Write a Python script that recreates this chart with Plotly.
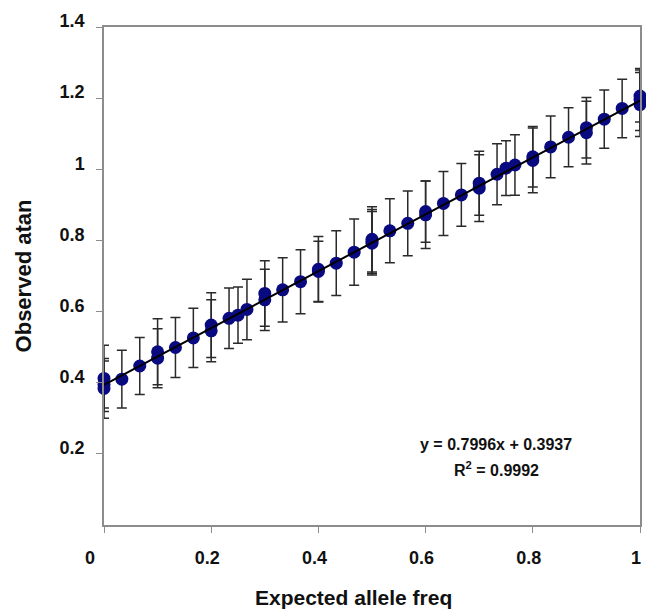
import plotly.graph_objects as go

# ---- data ----
expected_freq = [0.0, 0.0, 0.0, 0.0333, 0.0667, 0.1, 0.1, 0.1333, 0.1667,
                 0.2, 0.2, 0.2333, 0.25, 0.2667, 0.3, 0.3, 0.3333, 0.3667,
                 0.4, 0.4, 0.4333, 0.4667, 0.5, 0.5, 0.5, 0.5333, 0.5667,
                 0.6, 0.6, 0.6333, 0.6667, 0.7, 0.7, 0.7333, 0.75, 0.7667,
                 0.8, 0.8, 0.8333, 0.8667, 0.9, 0.9, 0.9333, 0.9667,
                 1.0, 1.0, 1.0]
observed_atan = [0.412, 0.395, 0.384, 0.410, 0.447, 0.487, 0.469, 0.499, 0.526,
                 0.562, 0.546, 0.581, 0.590, 0.606, 0.651, 0.633, 0.661, 0.684,
                 0.719, 0.713, 0.736, 0.767, 0.803, 0.797, 0.792, 0.827, 0.848,
                 0.881, 0.872, 0.904, 0.928, 0.961, 0.947, 0.986, 1.003, 1.012,
                 1.035, 1.025, 1.063, 1.090, 1.117, 1.103, 1.141, 1.171,
                 1.206, 1.196, 1.182]
observed_err = [0.093, 0.066, 0.084, 0.081, 0.080, 0.093, 0.083, 0.084, 0.083,
                0.091, 0.087, 0.085, 0.079, 0.085, 0.092, 0.086, 0.090, 0.090,
                0.092, 0.085, 0.091, 0.093, 0.092, 0.090, 0.089, 0.090, 0.091,
                0.086, 0.095, 0.090, 0.088, 0.090, 0.094, 0.086, 0.077, 0.085,
                0.085, 0.091, 0.087, 0.083, 0.085, 0.088, 0.082, 0.082,
                0.073, 0.087, 0.090]

fit_slope = 0.7996
fit_intercept = 0.3937
fit_r2 = 0.9992
fit_x = [0.0, 1.0]

x_tickvals = [0, 0.2, 0.4, 0.6, 0.8, 1]
x_ticktext = ["0\u00a0\u00a0\u00a0\u00a0", "0.2", "0.4", "0.6", "0.8", "1"]
y_tickvals = [0.2, 0.4, 0.6, 0.8, 1.0, 1.2, 1.4]
y_ticktext = ["0.2", "0.4", "0.6", "0.8", "1", "1.2", "1.4"]

FONT = "Liberation Sans, Arial, sans-serif"
AXIS_COLOR = "#8c8c8c"

fit_y = [fit_slope * v + fit_intercept for v in fit_x]

fig = go.Figure()
fig.add_trace(go.Scatter(
    x=expected_freq, y=observed_atan, mode="markers",
    marker=dict(size=13, color="#0a0a80"),
    error_y=dict(type="data", array=observed_err, visible=True,
                 color="#2a2a2a", thickness=1.5, width=5),
    cliponaxis=False, showlegend=False,
))
fig.add_trace(go.Scatter(
    x=fit_x, y=fit_y, mode="lines",
    line=dict(color="black", width=2),
    cliponaxis=False, showlegend=False,
))

fig.add_annotation(x=0.731, y=0.225, xref="x", yref="y",
                   text=f"<b>y = {fit_slope}x + {fit_intercept}</b>",
                   showarrow=False, xanchor="center", yanchor="middle",
                   font=dict(family=FONT, size=16, color="#111"))
fig.add_annotation(x=0.733, y=0.157, xref="x", yref="y",
                   text=f"<b>R<sup>2</sup> = {fit_r2}</b>",
                   showarrow=False, xanchor="center", yanchor="middle",
                   font=dict(family=FONT, size=16, color="#111"))
fig.add_annotation(x=0.466, y=-0.145, xref="paper", yref="paper",
                   text="<b>Expected allele freq</b>", showarrow=False,
                   xanchor="center", yanchor="middle",
                   font=dict(family=FONT, size=21, color="#111"))

fig.update_xaxes(
    range=[0, 1], tickvals=x_tickvals, ticktext=x_ticktext,
    ticks="outside", ticklen=6, tickcolor=AXIS_COLOR, tickwidth=1,
    showline=True, linecolor=AXIS_COLOR, linewidth=1.5, mirror=True,
    showgrid=False, zeroline=False, automargin=False,
    tickfont=dict(family=FONT, size=18, color="#111", weight="bold"),
    ticklabelstandoff=10, ticklabelshift=-4,
)
fig.update_yaxes(
    range=[0, 1.4], tickvals=y_tickvals, ticktext=y_ticktext,
    ticks="outside", ticklen=6, tickcolor=AXIS_COLOR, tickwidth=1,
    showline=True, linecolor=AXIS_COLOR, linewidth=1.5, mirror=True,
    showgrid=False, zeroline=False, automargin=False,
    tickfont=dict(family=FONT, size=18, color="#111", weight="bold"),
    ticklabelstandoff=8, ticklabelshift=-6,
    title=dict(text="<b>Observed atan</b>", standoff=22,
               font=dict(family=FONT, size=22, color="#111")),
)
fig.update_layout(
    width=646, height=612, autosize=False,
    margin=dict(l=104, r=6, t=27, b=87),
    paper_bgcolor="white", plot_bgcolor="white",
)
fig.write_html(
    "out.html",
    config={"displayModeBar": False},
    post_script="document.body.style.margin='0';document.body.style.overflow='hidden';",
)
